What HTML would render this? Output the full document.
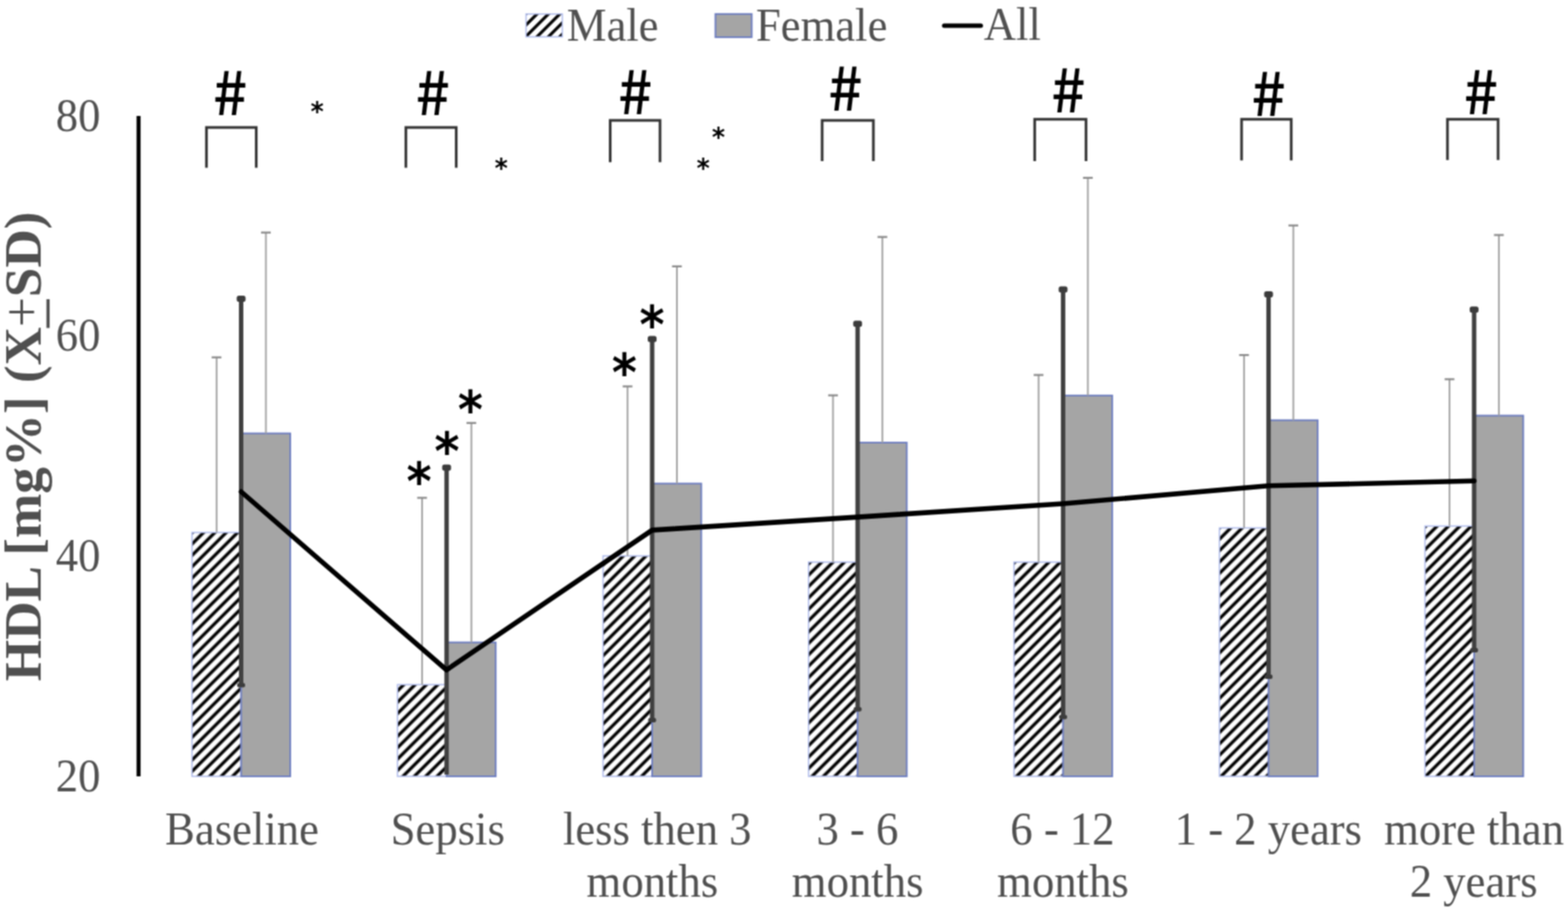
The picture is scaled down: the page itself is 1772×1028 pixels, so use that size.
<!DOCTYPE html><html><head><meta charset="utf-8"><title>HDL chart</title>
<style>html,body{margin:0;padding:0;background:#fff;overflow:hidden;}svg{display:block;}text{font-family:"Liberation Serif",serif;}</style></head><body>
<svg width="1772" height="1028" viewBox="0 0 1772 1028">
<defs><pattern id="hatch" patternUnits="userSpaceOnUse" width="9.08" height="9.08" patternTransform="rotate(45)"><rect x="0" y="0" width="9.08" height="9.08" fill="#fff"/><rect x="5.1" y="0" width="3.6" height="9.08" fill="#000"/></pattern><pattern id="hatch2" patternUnits="userSpaceOnUse" width="9.08" height="9.08" patternTransform="rotate(45)"><rect x="0" y="0" width="9.08" height="9.08" fill="#fff"/><rect x="2.8" y="0" width="3.4" height="9.08" fill="#000"/></pattern><filter id="soft" x="0" y="0" width="1772" height="1028" filterUnits="userSpaceOnUse" color-interpolation-filters="sRGB"><feConvolveMatrix order="3" kernelMatrix="1 2 1 2 4 2 1 2 1" divisor="16" edgeMode="duplicate"/></filter></defs><g filter="url(#soft)">
<rect width="1772" height="1028" fill="#fff"/>
<rect x="217.0" y="601.5" width="55.5" height="275.5" fill="url(#hatch)" stroke="#b0bcec" stroke-width="1.5"/>
<rect x="272.5" y="489.6" width="55.5" height="387.4" fill="#a5a5a5" stroke="#6e7ec0" stroke-width="1.9"/>
<rect x="449.2" y="773.4" width="55.5" height="103.6" fill="url(#hatch)" stroke="#b0bcec" stroke-width="1.5"/>
<rect x="504.7" y="725.7" width="55.5" height="151.3" fill="#a5a5a5" stroke="#6e7ec0" stroke-width="1.9"/>
<rect x="681.5" y="628.0" width="55.5" height="249.0" fill="url(#hatch)" stroke="#b0bcec" stroke-width="1.5"/>
<rect x="737.0" y="546.3" width="55.5" height="330.7" fill="#a5a5a5" stroke="#6e7ec0" stroke-width="1.9"/>
<rect x="913.7" y="635.0" width="55.5" height="242.0" fill="url(#hatch)" stroke="#b0bcec" stroke-width="1.5"/>
<rect x="969.2" y="500.0" width="55.5" height="377.0" fill="#a5a5a5" stroke="#6e7ec0" stroke-width="1.9"/>
<rect x="1145.9" y="635.0" width="55.5" height="242.0" fill="url(#hatch)" stroke="#b0bcec" stroke-width="1.5"/>
<rect x="1201.4" y="446.8" width="55.5" height="430.2" fill="#a5a5a5" stroke="#6e7ec0" stroke-width="1.9"/>
<rect x="1378.1" y="596.4" width="55.5" height="280.6" fill="url(#hatch)" stroke="#b0bcec" stroke-width="1.5"/>
<rect x="1433.6" y="474.7" width="55.5" height="402.3" fill="#a5a5a5" stroke="#6e7ec0" stroke-width="1.9"/>
<rect x="1610.4" y="594.3" width="55.5" height="282.7" fill="url(#hatch)" stroke="#b0bcec" stroke-width="1.5"/>
<rect x="1665.9" y="469.5" width="55.5" height="407.5" fill="#a5a5a5" stroke="#6e7ec0" stroke-width="1.9"/>
<line x1="244.8" y1="601.5" x2="244.8" y2="403.2" stroke="#a4a4a4" stroke-width="2"/>
<line x1="239.2" y1="403.7" x2="250.2" y2="403.7" stroke="#8a8a8a" stroke-width="2.2"/>
<line x1="300.5" y1="489.6" x2="300.5" y2="262.2" stroke="#a4a4a4" stroke-width="2"/>
<line x1="295.0" y1="262.7" x2="306.0" y2="262.7" stroke="#8a8a8a" stroke-width="2.2"/>
<line x1="477.0" y1="773.4" x2="477.0" y2="561.9" stroke="#a4a4a4" stroke-width="2"/>
<line x1="471.5" y1="562.4" x2="482.5" y2="562.4" stroke="#8a8a8a" stroke-width="2.2"/>
<line x1="532.7" y1="725.7" x2="532.7" y2="477.3" stroke="#a4a4a4" stroke-width="2"/>
<line x1="527.2" y1="477.8" x2="538.2" y2="477.8" stroke="#8a8a8a" stroke-width="2.2"/>
<line x1="709.2" y1="628.0" x2="709.2" y2="436.0" stroke="#a4a4a4" stroke-width="2"/>
<line x1="703.7" y1="436.5" x2="714.7" y2="436.5" stroke="#8a8a8a" stroke-width="2.2"/>
<line x1="765.0" y1="546.3" x2="765.0" y2="300.4" stroke="#a4a4a4" stroke-width="2"/>
<line x1="759.5" y1="300.9" x2="770.5" y2="300.9" stroke="#8a8a8a" stroke-width="2.2"/>
<line x1="941.4" y1="635.0" x2="941.4" y2="446.1" stroke="#a4a4a4" stroke-width="2"/>
<line x1="935.9" y1="446.6" x2="946.9" y2="446.6" stroke="#8a8a8a" stroke-width="2.2"/>
<line x1="997.2" y1="500.0" x2="997.2" y2="267.2" stroke="#a4a4a4" stroke-width="2"/>
<line x1="991.7" y1="267.7" x2="1002.7" y2="267.7" stroke="#8a8a8a" stroke-width="2.2"/>
<line x1="1173.7" y1="635.0" x2="1173.7" y2="423.1" stroke="#a4a4a4" stroke-width="2"/>
<line x1="1168.2" y1="423.6" x2="1179.2" y2="423.6" stroke="#8a8a8a" stroke-width="2.2"/>
<line x1="1229.4" y1="446.8" x2="1229.4" y2="200.4" stroke="#a4a4a4" stroke-width="2"/>
<line x1="1223.9" y1="200.9" x2="1234.9" y2="200.9" stroke="#8a8a8a" stroke-width="2.2"/>
<line x1="1405.9" y1="596.4" x2="1405.9" y2="400.6" stroke="#a4a4a4" stroke-width="2"/>
<line x1="1400.4" y1="401.1" x2="1411.4" y2="401.1" stroke="#8a8a8a" stroke-width="2.2"/>
<line x1="1461.6" y1="474.7" x2="1461.6" y2="254.2" stroke="#a4a4a4" stroke-width="2"/>
<line x1="1456.1" y1="254.7" x2="1467.1" y2="254.7" stroke="#8a8a8a" stroke-width="2.2"/>
<line x1="1638.1" y1="594.3" x2="1638.1" y2="427.9" stroke="#a4a4a4" stroke-width="2"/>
<line x1="1632.6" y1="428.4" x2="1643.6" y2="428.4" stroke="#8a8a8a" stroke-width="2.2"/>
<line x1="1693.9" y1="469.5" x2="1693.9" y2="265.0" stroke="#a4a4a4" stroke-width="2"/>
<line x1="1688.4" y1="265.5" x2="1699.4" y2="265.5" stroke="#8a8a8a" stroke-width="2.2"/>
<line x1="272.5" y1="336.0" x2="272.5" y2="774.5" stroke="#404040" stroke-width="5"/>
<rect x="267.5" y="334.0" width="10" height="7" rx="2.5" fill="#3c3c3c"/>
<rect x="268.0" y="771.5" width="9" height="5" rx="2" fill="#3c3c3c"/>
<line x1="504.7" y1="526.7" x2="504.7" y2="875.0" stroke="#404040" stroke-width="5"/>
<rect x="499.7" y="524.7" width="10" height="7" rx="2.5" fill="#3c3c3c"/>
<line x1="737.0" y1="381.6" x2="737.0" y2="813.9" stroke="#404040" stroke-width="5"/>
<rect x="732.0" y="379.6" width="10" height="7" rx="2.5" fill="#3c3c3c"/>
<rect x="732.5" y="810.9" width="9" height="5" rx="2" fill="#3c3c3c"/>
<line x1="969.2" y1="364.3" x2="969.2" y2="801.7" stroke="#404040" stroke-width="5"/>
<rect x="964.2" y="362.3" width="10" height="7" rx="2.5" fill="#3c3c3c"/>
<rect x="964.7" y="798.7" width="9" height="5" rx="2" fill="#3c3c3c"/>
<line x1="1201.4" y1="325.5" x2="1201.4" y2="810.5" stroke="#404040" stroke-width="5"/>
<rect x="1196.4" y="323.5" width="10" height="7" rx="2.5" fill="#3c3c3c"/>
<rect x="1196.9" y="807.5" width="9" height="5" rx="2" fill="#3c3c3c"/>
<line x1="1433.6" y1="331.1" x2="1433.6" y2="764.9" stroke="#404040" stroke-width="5"/>
<rect x="1428.6" y="329.1" width="10" height="7" rx="2.5" fill="#3c3c3c"/>
<rect x="1429.1" y="761.9" width="9" height="5" rx="2" fill="#3c3c3c"/>
<line x1="1665.9" y1="348.2" x2="1665.9" y2="735.1" stroke="#404040" stroke-width="5"/>
<rect x="1660.9" y="346.2" width="10" height="7" rx="2.5" fill="#3c3c3c"/>
<rect x="1661.4" y="732.1" width="9" height="5" rx="2" fill="#3c3c3c"/>
<polyline points="272.5,555.5 504.7,756.8 737.0,598.9 969.2,584.1 1201.4,569.0 1433.6,548.8 1665.9,543.3" fill="none" stroke="#000" stroke-width="5.6" stroke-linejoin="round" stroke-linecap="round"/>
<line x1="156.6" y1="131" x2="156.6" y2="877" stroke="#000" stroke-width="4.5"/>
<text transform="translate(113.5,147.7) scale(1,1.05)" font-size="50.5" fill="#505050" text-anchor="end">80</text>
<text transform="translate(113.5,396.4) scale(1,1.05)" font-size="50.5" fill="#505050" text-anchor="end">60</text>
<text transform="translate(113.5,645.0) scale(1,1.05)" font-size="50.5" fill="#505050" text-anchor="end">40</text>
<text transform="translate(113.5,893.7) scale(1,1.05)" font-size="50.5" fill="#505050" text-anchor="end">20</text>
<g transform="translate(45.5,769.5) rotate(-90)"><text x="0" y="0" font-size="60" font-weight="bold" fill="#505050">HDL [mg%] (X<tspan font-weight="normal" dy="-1.5">+</tspan><tspan dy="1.5">SD)</tspan></text><rect x="399" y="7" width="32.5" height="3.6" fill="#505050"/></g>
<text transform="translate(273.5,953.8) scale(1,1.05)" font-size="50.5" fill="#505050" text-anchor="middle">Baseline</text>
<text transform="translate(506.0,953.8) scale(1,1.05)" font-size="50.5" fill="#505050" text-anchor="middle">Sepsis</text>
<text transform="translate(742.7,953.8) scale(1,1.05)" font-size="50.5" fill="#505050" text-anchor="middle">less then 3</text>
<text transform="translate(737.2,1013.0) scale(1,1.05)" font-size="50.5" fill="#505050" text-anchor="middle">months</text>
<text transform="translate(969.0,953.8) scale(1,1.05)" font-size="50.5" fill="#505050" text-anchor="middle">3 - 6</text>
<text transform="translate(969.2,1013.0) scale(1,1.05)" font-size="50.5" fill="#505050" text-anchor="middle">months</text>
<text transform="translate(1200.7,953.8) scale(1,1.05)" font-size="50.5" fill="#505050" text-anchor="middle">6 - 12</text>
<text transform="translate(1201.2,1013.0) scale(1,1.05)" font-size="50.5" fill="#505050" text-anchor="middle">months</text>
<text transform="translate(1433.4,953.8) scale(1,1.05)" font-size="50.5" fill="#505050" text-anchor="middle">1 - 2 years</text>
<text transform="translate(1665.8,953.8) scale(1,1.05)" font-size="50.5" fill="#505050" text-anchor="middle">more than</text>
<text transform="translate(1665.4,1013.0) scale(1,1.05)" font-size="50.5" fill="#505050" text-anchor="middle">2 years</text>
<rect x="594.5" y="15.8" width="41" height="25.8" fill="url(#hatch2)" stroke="#b0bcec" stroke-width="1.5"/>
<text transform="translate(640.5,45.9) scale(1,1.05)" font-size="50.5" fill="#505050" text-anchor="start">Male</text>
<rect x="808.5" y="15.8" width="41" height="26.2" fill="#a5a5a5" stroke="#6e7ec0" stroke-width="1.9"/>
<text transform="translate(854.2,45.9) scale(1,1.05)" font-size="50.5" fill="#505050" text-anchor="start">Female</text>
<line x1="1067" y1="28.9" x2="1108.4" y2="28.9" stroke="#000" stroke-width="5" stroke-linecap="round"/>
<text transform="translate(1111.7,45.4) scale(1,1.05)" font-size="50.5" fill="#505050" text-anchor="start">All</text>
<path d="M233.3,189.5 L233.3,144 L289.6,144 L289.6,189.5" fill="none" stroke="#333" stroke-width="3"/>
<path d="M458.7,189.5 L458.7,144 L515.6,144 L515.6,189.5" fill="none" stroke="#333" stroke-width="3"/>
<path d="M689.6,183.2 L689.6,136 L745.9,136 L745.9,183.2" fill="none" stroke="#333" stroke-width="3"/>
<path d="M929.1,182 L929.1,136 L987,136 L987,182" fill="none" stroke="#333" stroke-width="3"/>
<path d="M1169.3,182 L1169.3,134.8 L1227.3,134.8 L1227.3,182" fill="none" stroke="#333" stroke-width="3"/>
<path d="M1403.1,181.3 L1403.1,134.8 L1459.2,134.8 L1459.2,181.3" fill="none" stroke="#333" stroke-width="3"/>
<path d="M1635.8,180.7 L1635.8,134.8 L1693,134.8 L1693,180.7" fill="none" stroke="#333" stroke-width="3"/>
<text x="240.8" y="130.4" font-size="68" font-weight="500" fill="#000" style="font-family:'Noto Sans CJK JP','Liberation Sans',sans-serif">#</text>
<text x="469.7" y="130.4" font-size="68" font-weight="500" fill="#000" style="font-family:'Noto Sans CJK JP','Liberation Sans',sans-serif">#</text>
<text x="698.4" y="128.7" font-size="68" font-weight="500" fill="#000" style="font-family:'Noto Sans CJK JP','Liberation Sans',sans-serif">#</text>
<text x="936.0" y="125.3" font-size="68" font-weight="500" fill="#000" style="font-family:'Noto Sans CJK JP','Liberation Sans',sans-serif">#</text>
<text x="1188.0" y="127.0" font-size="68" font-weight="500" fill="#000" style="font-family:'Noto Sans CJK JP','Liberation Sans',sans-serif">#</text>
<text x="1414.2" y="131.0" font-size="68" font-weight="500" fill="#000" style="font-family:'Noto Sans CJK JP','Liberation Sans',sans-serif">#</text>
<text x="1654.3" y="129.1" font-size="68" font-weight="500" fill="#000" style="font-family:'Noto Sans CJK JP','Liberation Sans',sans-serif">#</text>
<text transform="translate(358.5,136.4) scale(0.95,1)" x="-7.8" y="0" font-size="30" font-weight="bold" fill="#000" style="font-family:'DejaVu Sans',sans-serif">*</text>
<text transform="translate(566.5,199.6) scale(0.95,1)" x="-7.8" y="0" font-size="30" font-weight="bold" fill="#000" style="font-family:'DejaVu Sans',sans-serif">*</text>
<text transform="translate(811.9,164.9) scale(0.95,1)" x="-7.8" y="0" font-size="30" font-weight="bold" fill="#000" style="font-family:'DejaVu Sans',sans-serif">*</text>
<text transform="translate(794.6,199.6) scale(0.95,1)" x="-7.8" y="0" font-size="30" font-weight="bold" fill="#000" style="font-family:'DejaVu Sans',sans-serif">*</text>
<text transform="translate(473.2,563.7) scale(0.92,1)" x="-15" y="0" font-size="58.7" font-weight="bold" fill="#000" style="font-family:'DejaVu Sans',sans-serif">*</text>
<text transform="translate(504.9,530.0) scale(0.92,1)" x="-15" y="0" font-size="58.7" font-weight="bold" fill="#000" style="font-family:'DejaVu Sans',sans-serif">*</text>
<text transform="translate(531.2,483.4) scale(0.92,1)" x="-15" y="0" font-size="58.7" font-weight="bold" fill="#000" style="font-family:'DejaVu Sans',sans-serif">*</text>
<text transform="translate(705.3,441.0) scale(0.92,1)" x="-15" y="0" font-size="58.7" font-weight="bold" fill="#000" style="font-family:'DejaVu Sans',sans-serif">*</text>
<text transform="translate(736.6,387.4) scale(0.92,1)" x="-15" y="0" font-size="58.7" font-weight="bold" fill="#000" style="font-family:'DejaVu Sans',sans-serif">*</text>
</g></svg></body></html>
